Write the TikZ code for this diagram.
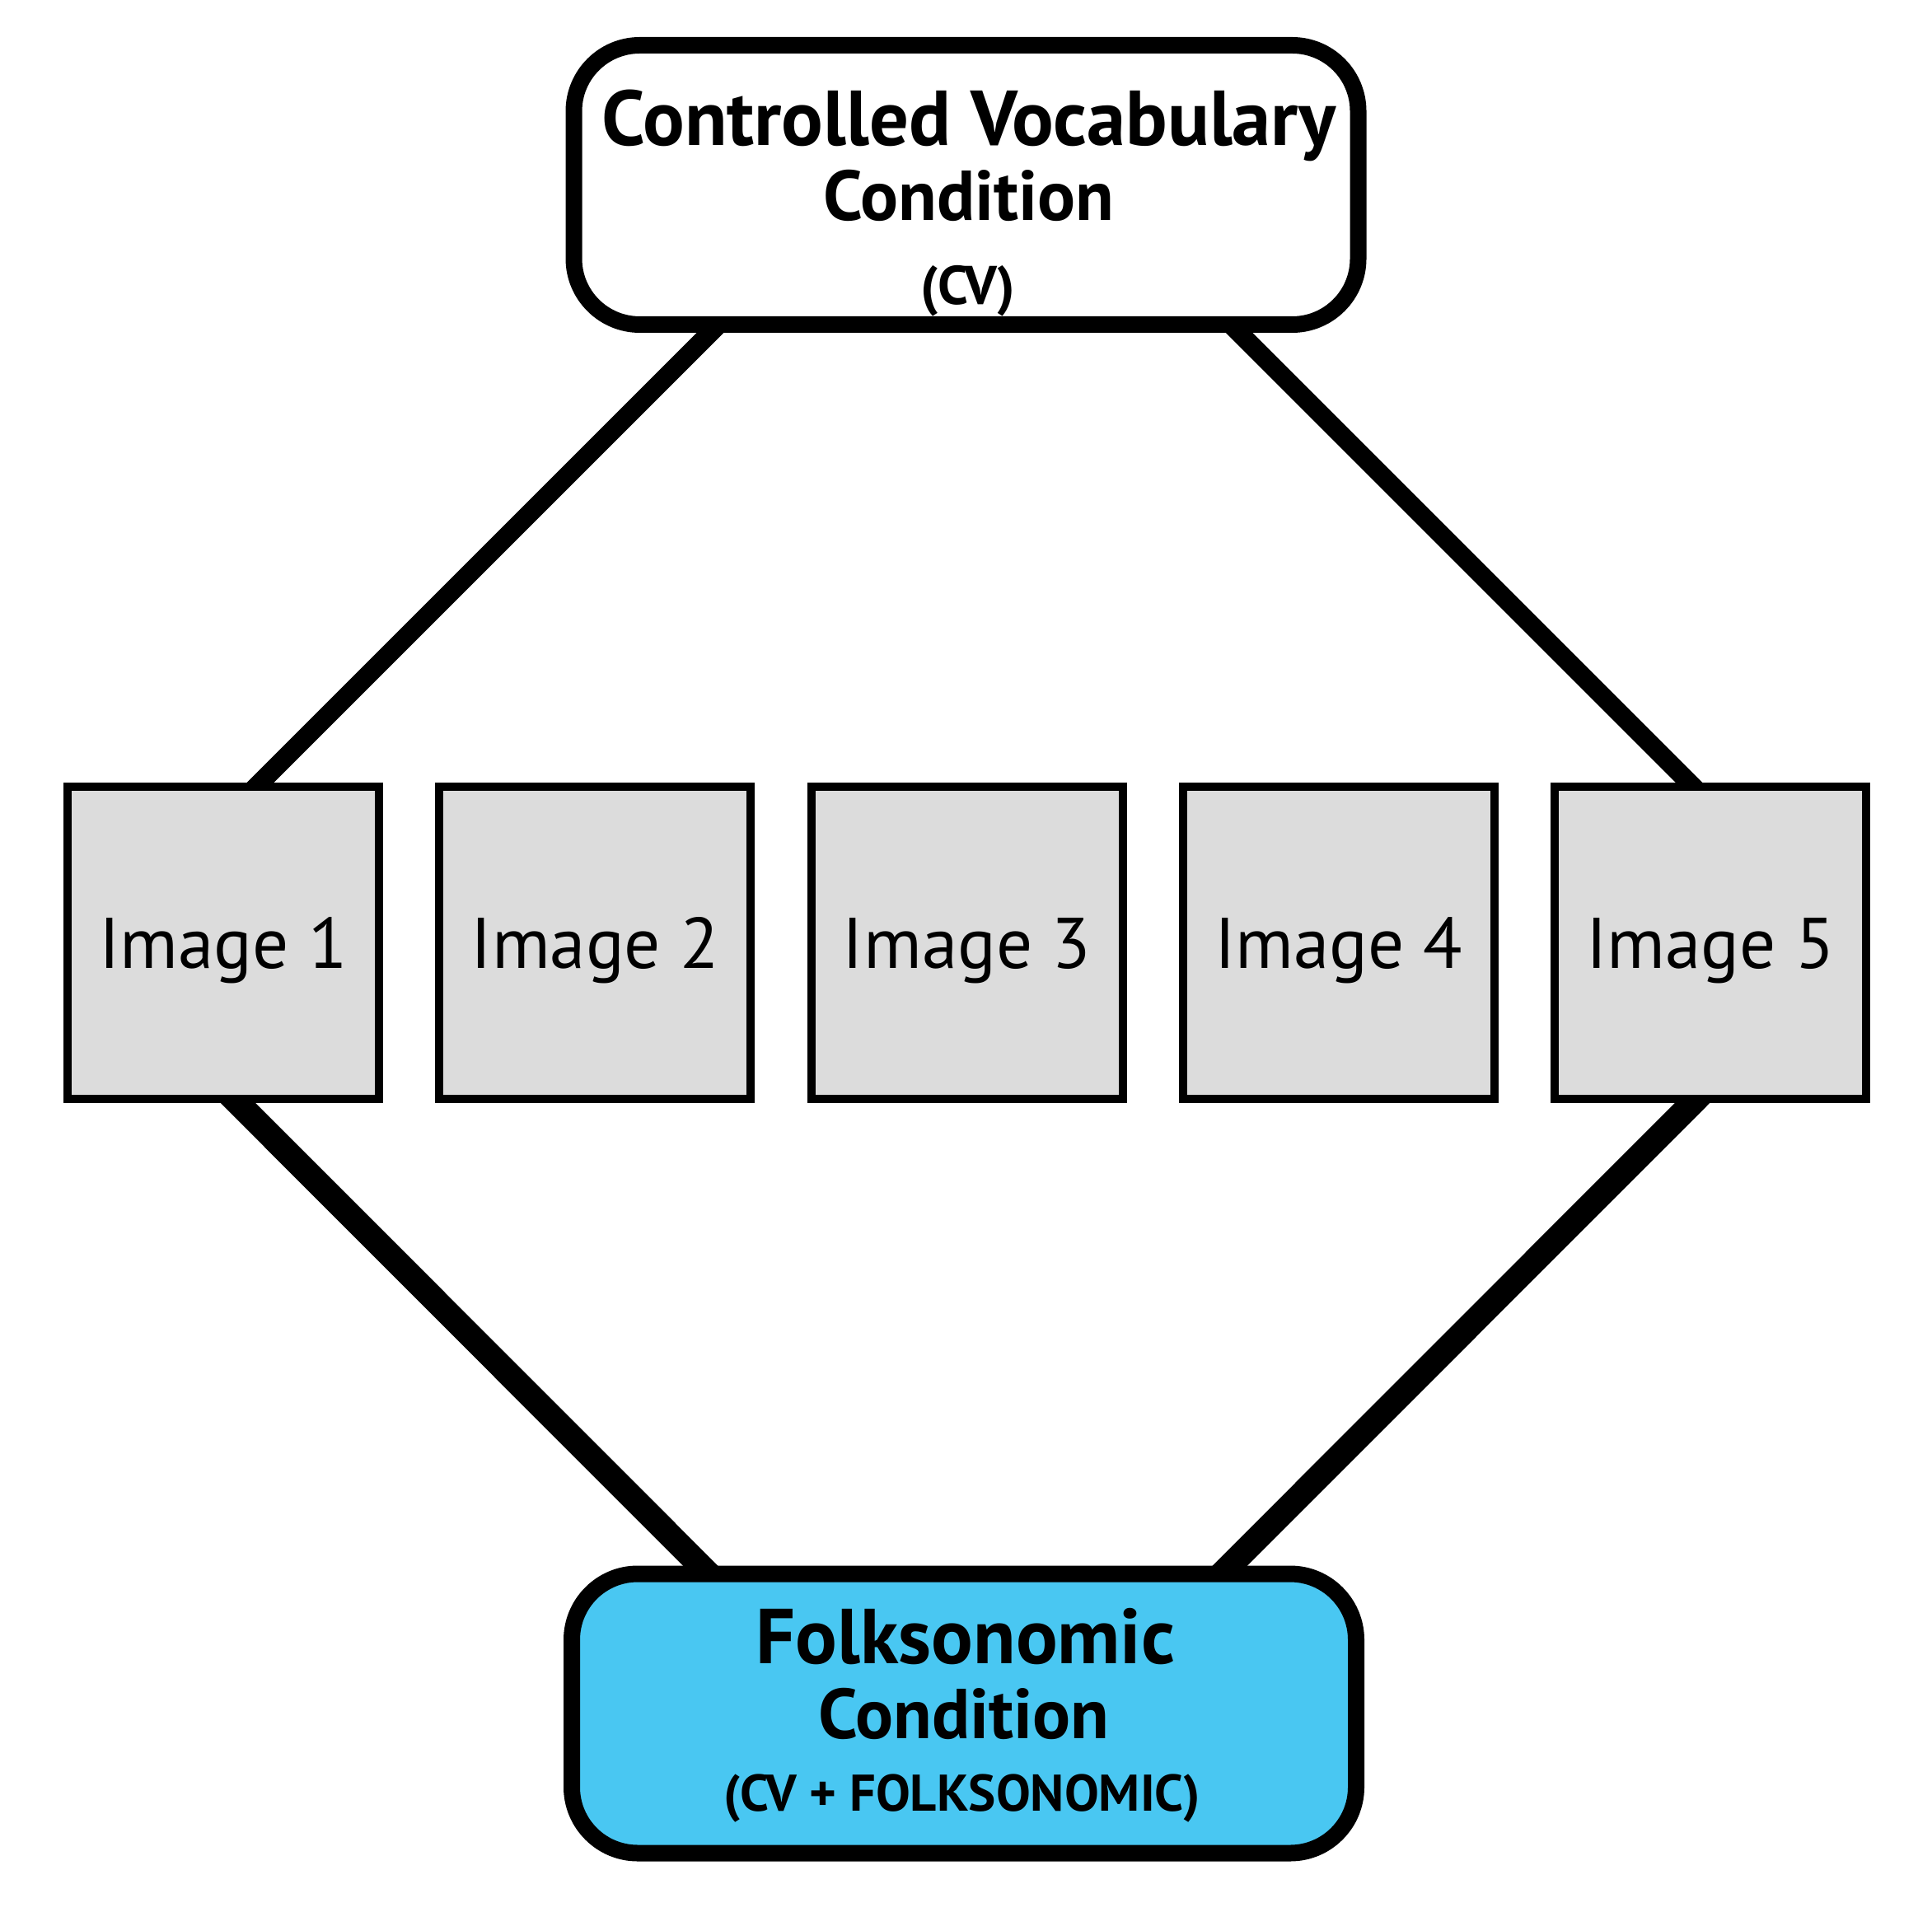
\documentclass[tikz,border=0pt]{standalone}
\usepackage{fontspec}
\setmainfont{PT Sans}
\usepackage{tikz}
\usetikzlibrary{backgrounds}
\definecolor{imggray}{RGB}{220,220,220}
\definecolor{folkblue}{RGB}{73,199,242}

\begin{document}
\begin{tikzpicture}[
  condbox/.style={draw, line width=0.2cm, rounded corners=0.8cm,
    minimum width=9.52cm, minimum height=3.39cm},
  imgbox/.style={draw, fill=imggray, line width=0.1cm, minimum width=3.78cm,
    minimum height=3.79cm, text depth=0pt, font=\fontsize{24.8}{30}\selectfont},
  bigtext/.style={anchor=base, inner sep=0pt, font=\bfseries\fontsize{26.9}{32}\selectfont},
  midtext/.style={anchor=base, inner sep=0pt, font=\bfseries\fontsize{24.4}{29}\selectfont},
  toplink/.style={line width=0.23cm, shorten <=-0.3cm, shorten >=-0.3cm},
  botlink/.style={line width=0.30cm, shorten <=-0.3cm, shorten >=-0.3cm}
]
\useasboundingbox (0,0) rectangle (23.45,23.20);

\node[condbox, fill=white] (cv) at (11.725,20.955) {};
\node[condbox, fill=folkblue] (folk) at (11.70,2.40) {};
\foreach \n in {1,...,5}
	\node[imgbox] (img\n) at ({2.71+4.5125*(\n-1)},11.755) {Image \n};

% text in the two condition boxes
\node[bigtext] (cvname) at (11.76,21.43) {Controlled Vocabulary};
\node[midtext] (cvcond) at (11.76,20.52) {Condition};
\node[anchor=base, inner sep=0pt, font=\bfseries\fontsize{18.8}{22}\selectfont] (cvtag) at (11.75,19.50) {(CV)};
\node[bigtext] (folkname) at (11.72,3.01) {Folksonomic};
\node[midtext] (folkcond) at (11.70,2.10) {Condition};
\node[anchor=base, inner sep=0pt, font=\bfseries\fontsize{17.8}{22}\selectfont] (folktag) at (11.68,1.22) {(CV + FOLKSONOMIC)};

\begin{scope}[on background layer]
\draw[toplink] ([xshift=-3.105cm]cv.south) -- ([xshift=0.45cm]img1.north);
\draw[toplink] ([xshift=3.315cm]cv.south) -- ([xshift=-0.26cm]img5.north);
\draw[botlink] ([xshift=0.18cm]img1.south) -- ([xshift=-3.20cm]folk.north);
\draw[botlink] ([xshift=-0.22cm]img5.south) -- ([xshift=3.23cm]folk.north);
\end{scope}
\end{tikzpicture}
\end{document}
